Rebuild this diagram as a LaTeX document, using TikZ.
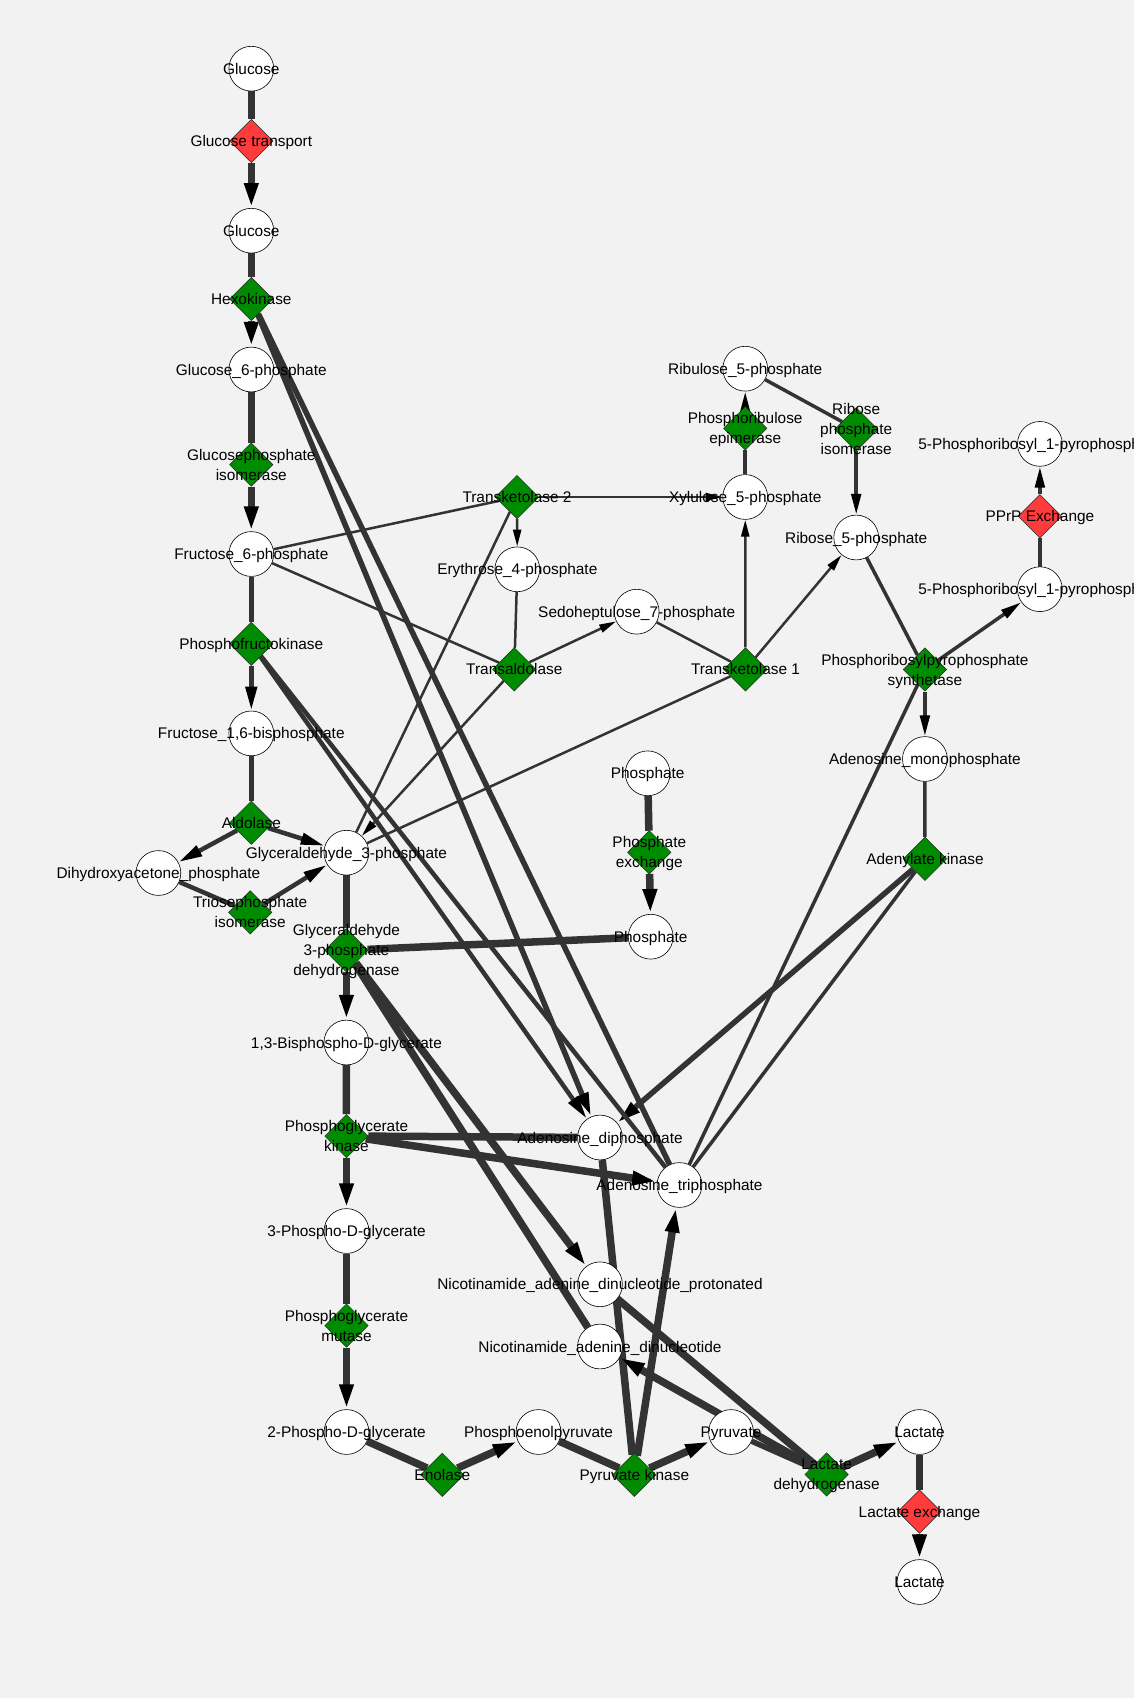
\documentclass[tikz,border=0pt]{standalone}
\usepackage{fontspec}
\setmainfont{Liberation Sans}
\usetikzlibrary{shapes.geometric,arrows.meta}
\pgfdeclarelayer{bglayer}
\pgfdeclarelayer{edgelayer}
\pgfsetlayers{bglayer,edgelayer,main}
\definecolor{bgc}{HTML}{F2F2F2}
\definecolor{rgreen}{HTML}{008C00}
\definecolor{rred}{HTML}{FF3C3C}
\definecolor{edgec}{HTML}{333333}
\tikzset{
  met/.style={circle,draw=black,line width=0.6pt,fill=white,minimum size=44.8pt,inner sep=0pt},
  rxn/.style={diamond,draw=black!85,line width=0.5pt,fill=rgreen,minimum width=43.5pt,minimum height=43.5pt,inner sep=0pt,aspect=1},
  xch/.style={rxn,fill=rred},
  lbl/.style={font=\fontsize{15.4}{20}\selectfont,align=center,inner sep=0pt,text depth=0pt},
  eA/.style={draw=edgec,line width=7.5pt},
  eB/.style={draw=edgec,line width=5.5pt},
  eC/.style={draw=edgec,line width=4.5pt},
  eD/.style={draw=edgec,line width=3.5pt},
  eE/.style={draw=edgec,line width=2.5pt},
  aA/.style={-{Triangle[length=25pt,width=13pt,color=black]}},
  aB/.style={-{Triangle[length=24pt,width=12pt,color=black]}},
  aC/.style={-{Triangle[length=24pt,width=11pt,color=black]}},
  aD/.style={-{Triangle[length=21pt,width=9.5pt,color=black]}},
  aE/.style={-{Triangle[length=17pt,width=8pt,color=black]}},
}
\begin{document}
\begin{tikzpicture}[x=1pt,y=-1pt]
\begin{pgfonlayer}{bglayer}
\fill[bgc] (0,0) rectangle (1134,1698);
\end{pgfonlayer}
\useasboundingbox (0,0) rectangle (1134,1698);
% metabolites
\node[met] (glcA) at (251.3,68.7) {};
\node[met] (glcB) at (251.3,230.7) {};
\node[met] (g6p) at (251.3,369.5) {};
\node[met] (f6p) at (251.3,554) {};
\node[met] (f16bp) at (251.3,733.4) {};
\node[met] (dhap) at (158.4,873) {};
\node[met] (g3p) at (346.4,852.7) {};
\node[met] (bpg) at (346.4,1042.5) {};
\node[met] (pgiii) at (346.5,1231) {};
\node[met] (pgii) at (346.5,1432) {};
\node[met] (pep) at (538.5,1432) {};
\node[met] (pyr) at (731,1432) {};
\node[met] (lacA) at (919.5,1432) {};
\node[met] (lacB) at (919.5,1582) {};
\node[met] (adp) at (600,1137.5) {};
\node[met] (atp) at (679.5,1185) {};
\node[met] (nadh) at (600,1284.3) {};
\node[met] (nad) at (600,1346.5) {};
\node[met] (piA) at (647.7,773.3) {};
\node[met] (piB) at (650.7,936.7) {};
\node[met] (eiv) at (517.3,569.3) {};
\node[met] (svii) at (636.7,611.7) {};
\node[met] (xv) at (745.2,497) {};
\node[met] (ruv) at (745.2,368.7) {};
\node[met] (rv) at (856.2,537.5) {};
\node[met] (prppA) at (1039.9,443.9) {};
\node[met] (prppB) at (1039.9,589.2) {};
\node[met] (amp) at (924.9,759) {};
% reactions
\node[xch] (gt) at (251.3,141) {};
\node[rxn] (hk) at (251.3,299) {};
\node[rxn] (gpi) at (251.3,464.6) {};
\node[rxn] (pfk) at (251.3,643.8) {};
\node[rxn] (ald) at (251.3,822.7) {};
\node[rxn] (tpi) at (250.2,912.4) {};
\node[rxn] (gapdh) at (346.4,950.3) {};
\node[rxn] (pgk) at (346.5,1136) {};
\node[rxn] (pgm) at (346.5,1325.5) {};
\node[rxn] (eno) at (442.3,1474.8) {};
\node[rxn] (pk) at (634.3,1474.8) {};
\node[rxn] (ldh) at (826.6,1474.4) {};
\node[xch] (lex) at (919.5,1511.6) {};
\node[rxn] (pex) at (649.3,852.3) {};
\node[rxn] (tkii) at (517,497) {};
\node[rxn] (tal) at (514.3,669.3) {};
\node[rxn] (tki) at (745.5,669.4) {};
\node[rxn] (pre) at (745.2,428.3) {};
\node[rxn] (rpi) at (856.2,429.4) {};
\node[rxn] (prpps) at (924.9,669.5) {};
\node[xch] (pprp) at (1039.9,516.2) {};
\node[rxn] (ak) at (925,858.8) {};
% edges
\begin{pgfonlayer}{edgelayer}
\draw[eE] (f6p) -- (tkii);
\draw[eE] (g3p) -- (tkii);
\draw[eE,aE] (tkii) -- (xv);
\draw[eE,aE] (tkii) -- (eiv);
\draw[eE] (f6p) -- (tal);
\draw[eE] (eiv) -- (tal);
\draw[eE,aE] (tal) -- (svii);
\draw[eE,aE] (tal) -- (g3p);
\draw[eE] (svii) -- (tki);
\draw[eE] (g3p) -- (tki);
\draw[eE,aE] (tki) -- (xv);
\draw[eE,aE] (tki) -- (rv);
\draw[eD] (xv) -- (pre);
\draw[eD,aD] (pre) -- (ruv);
\draw[eD] (ruv) -- (rpi);
\draw[eD,aD] (rpi) -- (rv);
\draw[eD] (rv) -- (prpps);
\draw[eD] (atp) -- (prpps);
\draw[eD,aD] (prpps) -- (prppB);
\draw[eD,aD] (prpps) -- (amp);
\draw[eD] (prppB) -- (pprp);
\draw[eD,aD] (pprp) -- (prppA);
\draw[eD] (amp) -- (ak);
\draw[eD] (atp) -- (ak);
\draw[eB,aB] (ak) -- (adp);
\draw[eA] (glcA) -- (gt);
\draw[eA,aA] (gt) -- (glcB);
\draw[eA] (glcB) -- (hk);
\draw[eA,aA] (hk) -- (g6p);
\draw[eB] (atp) -- (hk);
\draw[eB,aB] (hk) -- (adp);
\draw[eA] (g6p) -- (gpi);
\draw[eA,aA] (gpi) -- (f6p);
\draw[eC] (f6p) -- (pfk);
\draw[eC,aC] (pfk) -- (f16bp);
\draw[eC] (atp) -- (pfk);
\draw[eC,aC] (pfk) -- (adp);
\draw[eC] (f16bp) -- (ald);
\draw[eC,aC] (ald) -- (dhap);
\draw[eC,aC] (ald) -- (g3p);
\draw[eC] (dhap) -- (tpi);
\draw[eC,aC] (tpi) -- (g3p);
\draw[eA] (g3p) -- (gapdh);
\draw[eA] (piB) -- (gapdh);
\draw[eA] (nad) -- (gapdh);
\draw[eA,aA] (gapdh) -- (bpg);
\draw[eA,aA] (gapdh) -- (nadh);
\draw[eA] (bpg) -- (pgk);
\draw[eA] (adp) -- (pgk);
\draw[eA,aA] (pgk) -- (pgiii);
\draw[eA,aA] (pgk) -- (atp);
\draw[eA] (pgiii) -- (pgm);
\draw[eA,aA] (pgm) -- (pgii);
\draw[eA] (pgii) -- (eno);
\draw[eA,aA] (eno) -- (pep);
\draw[eA] (pep) -- (pk);
\draw[eA] (adp) -- (pk);
\draw[eA,aA] (pk) -- (pyr);
\draw[eA,aA] (pk) -- (atp);
\draw[eB] (pyr) -- (ldh);
\draw[eA] (nadh) -- (ldh);
\draw[eA,aA] (ldh) -- (lacA);
\draw[eA,aA] (ldh) -- (nad);
\draw[eA] (lacA) -- (lex);
\draw[eA,aA] (lex) -- (lacB);
\draw[eA] (piA) -- (pex);
\draw[eA,aA] (pex) -- (piB);
\end{pgfonlayer}
% labels
\node[lbl] (glcA-l) at (glcA) {Glucose};
\node[lbl] (glcB-l) at (glcB) {Glucose};
\node[lbl] (g6p-l) at (g6p) {Glucose\_6-phosphate};
\node[lbl] (f6p-l) at (f6p) {Fructose\_6-phosphate};
\node[lbl] (f16bp-l) at (f16bp) {Fructose\_1,6-bisphosphate};
\node[lbl] (dhap-l) at (dhap) {Dihydroxyacetone\_phosphate};
\node[lbl] (g3p-l) at (g3p) {Glyceraldehyde\_3-phosphate};
\node[lbl] (bpg-l) at (bpg) {1,3-Bisphospho-D-glycerate};
\node[lbl] (pgiii-l) at (pgiii) {3-Phospho-D-glycerate};
\node[lbl] (pgii-l) at (pgii) {2-Phospho-D-glycerate};
\node[lbl] (pep-l) at (pep) {Phosphoenolpyruvate};
\node[lbl] (pyr-l) at (pyr) {Pyruvate};
\node[lbl] (lacA-l) at (lacA) {Lactate};
\node[lbl] (lacB-l) at (lacB) {Lactate};
\node[lbl] (adp-l) at (adp) {Adenosine\_diphosphate};
\node[lbl] (atp-l) at (atp) {Adenosine\_triphosphate};
\node[lbl] (nadh-l) at (nadh) {Nicotinamide\_adenine\_dinucleotide\_protonated};
\node[lbl] (nad-l) at (nad) {Nicotinamide\_adenine\_dinucleotide};
\node[lbl] (piA-l) at (piA) {Phosphate};
\node[lbl] (piB-l) at (piB) {Phosphate};
\node[lbl] (eiv-l) at (eiv) {Erythrose\_4-phosphate};
\node[lbl] (svii-l) at (svii) {Sedoheptulose\_7-phosphate};
\node[lbl] (xv-l) at (xv) {Xylulose\_5-phosphate};
\node[lbl] (ruv-l) at (ruv) {Ribulose\_5-phosphate};
\node[lbl] (rv-l) at (rv) {Ribose\_5-phosphate};
\node[lbl] (prppA-l) at (prppA) {5-Phosphoribosyl\_1-pyrophosphate};
\node[lbl] (prppB-l) at (prppB) {5-Phosphoribosyl\_1-pyrophosphate};
\node[lbl] (amp-l) at (amp) {Adenosine\_monophosphate};
\node[lbl] (gt-l) at (gt) {Glucose transport};
\node[lbl] (hk-l) at (hk) {Hexokinase};
\node[lbl] (gpi-l) at (gpi) {Glucosephosphate\\isomerase};
\node[lbl] (pfk-l) at (pfk) {Phosphofructokinase};
\node[lbl] (ald-l) at (ald) {Aldolase};
\node[lbl] (tpi-l) at (tpi) {Triosephosphate\\isomerase};
\node[lbl] (gapdh-l) at (gapdh) {Glyceraldehyde\\3-phosphate\\dehydrogenase};
\node[lbl] (pgk-l) at (pgk) {Phosphoglycerate\\kinase};
\node[lbl] (pgm-l) at (pgm) {Phosphoglycerate\\mutase};
\node[lbl] (eno-l) at (eno) {Enolase};
\node[lbl] (pk-l) at (pk) {Pyruvate kinase};
\node[lbl] (ldh-l) at (ldh) {Lactate\\dehydrogenase};
\node[lbl] (lex-l) at (lex) {Lactate exchange};
\node[lbl] (pex-l) at (pex) {Phosphate\\exchange};
\node[lbl] (tkii-l) at (tkii) {Transketolase 2};
\node[lbl] (tal-l) at (tal) {Transaldolase};
\node[lbl] (tki-l) at (tki) {Transketolase 1};
\node[lbl] (pre-l) at (pre) {Phosphoribulose\\epimerase};
\node[lbl] (rpi-l) at (rpi) {Ribose\\phosphate\\isomerase};
\node[lbl] (prpps-l) at (prpps) {Phosphoribosylpyrophosphate\\synthetase};
\node[lbl] (pprp-l) at (pprp) {PPrP Exchange};
\node[lbl] (ak-l) at (ak) {Adenylate kinase};
\end{tikzpicture}
\end{document}
